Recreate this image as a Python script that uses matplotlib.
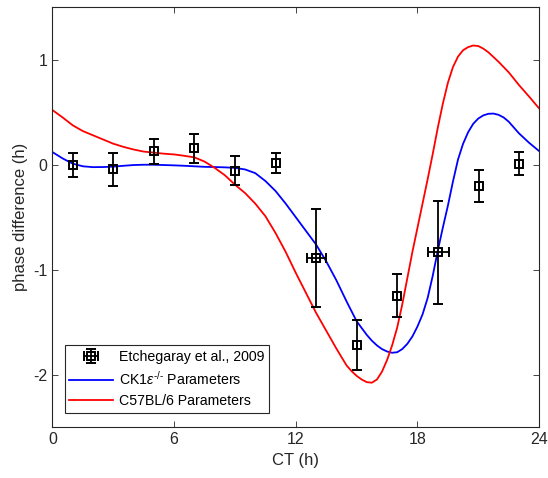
import matplotlib
matplotlib.use("Agg")
import matplotlib.pyplot as plt
import numpy as np

plt.rcParams['font.family'] = ['Liberation Sans', 'DejaVu Sans']
plt.rcParams['mathtext.fontset'] = 'custom'
plt.rcParams['mathtext.rm'] = 'Liberation Sans'
plt.rcParams['mathtext.it'] = 'Liberation Sans:italic'
plt.rcParams['axes.unicode_minus'] = False

# Experimental data (Etchegaray et al., 2009)
exp_ct = [1.0, 3.0, 5.0, 7.0, 9.0, 11.0, 13.0, 15.0, 17.0, 19.03, 21.03, 23.02]
exp_phase = [0.0, -0.045, 0.127, 0.156, -0.055, 0.013, -0.89, -1.717, -1.248, -0.835, -0.203, 0.01]
exp_yerr = [0.115, 0.16, 0.12, 0.14, 0.135, 0.095, 0.465, 0.24, 0.205, 0.49, 0.155, 0.11]
exp_xerr = [0, 0, 0, 0, 0, 0, 0.47, 0, 0, 0.52, 0, 0]

# Model curve: CK1e-/- parameters
ck1e_ct = [0, 0.5, 1, 1.5, 2, 2.5, 3, 3.5, 4, 4.5, 5, 5.5, 6, 6.5, 7, 7.5, 8, 8.5,
           9, 9.5, 10, 10.5, 11, 11.5, 12, 12.5, 13, 13.5, 14, 14.5, 15, 15.5,
           15.75, 16, 16.25, 16.5, 16.75, 17, 17.25, 17.5, 17.75, 18, 18.25,
           18.5, 18.75, 19, 19.25, 19.5, 19.75, 20, 20.25, 20.5, 20.75, 21,
           21.25, 21.5, 21.75, 22, 22.25, 22.5, 23, 23.5, 24]
ck1e_phase = [0.12, 0.06, 0.01, -0.015, -0.023, -0.022, -0.018, -0.01, -0.003, 0.0,
              0.0, -0.003, -0.006, -0.01, -0.015, -0.02, -0.022, -0.025,
              -0.03, -0.045, -0.08, -0.155, -0.25, -0.37, -0.50, -0.63, -0.76,
              -0.92, -1.10, -1.30, -1.49, -1.62,
              -1.675, -1.72, -1.755, -1.778, -1.79, -1.785, -1.755, -1.705,
              -1.635, -1.54, -1.425, -1.27, -1.06, -0.82, -0.60, -0.39, -0.16,
              0.05, 0.20, 0.31, 0.39, 0.44, 0.47, 0.485, 0.487, 0.475, 0.45,
              0.41, 0.30, 0.21, 0.13]

# Model curve: C57BL/6 parameters
c57_ct = [0, 0.5, 1, 1.5, 2, 2.5, 3, 3.5, 4, 4.5, 5, 5.5, 6, 6.5, 7, 7.5, 8, 8.5,
          9, 9.5, 10, 10.5, 11, 11.5, 12, 12.5, 13, 13.5, 14, 14.5, 14.75, 15,
          15.25, 15.5, 15.75, 16, 16.25, 16.5, 16.75, 17, 17.25, 17.5, 17.75,
          18, 18.25, 18.5, 18.75, 19, 19.25, 19.5, 19.75, 20, 20.25, 20.5,
          20.75, 21, 21.25, 21.5, 22, 22.5, 23, 23.5, 24]
c57_phase = [0.52, 0.45, 0.375, 0.32, 0.28, 0.24, 0.20, 0.17, 0.145, 0.125,
             0.115, 0.105, 0.098, 0.085, 0.07, 0.03, -0.03, -0.10,
             -0.19, -0.27, -0.37, -0.49, -0.65, -0.83, -1.03, -1.22, -1.41,
             -1.58, -1.75, -1.91, -1.965, -2.01, -2.045, -2.07, -2.075, -2.045,
             -1.97, -1.86, -1.72, -1.55, -1.33, -1.08, -0.83, -0.60, -0.37,
             -0.14, 0.10, 0.35, 0.58, 0.78, 0.93, 1.03, 1.09, 1.12, 1.135,
             1.13, 1.105, 1.07, 0.98, 0.88, 0.76, 0.65, 0.536]

legend_labels = ['Etchegaray et al., 2009',
                 'CK1$\\epsilon^{\u2010/\u2010}$ Parameters',
                 'C57BL/6 Parameters']

fig = plt.figure(figsize=(5.48, 4.78), dpi=100)
ax = fig.add_axes([0.0958, 0.106, 0.888, 0.879])

eb = ax.errorbar(exp_ct, exp_phase, yerr=exp_yerr, xerr=exp_xerr, fmt='s',
                 color='black', mfc='none', mec='black', ms=6, mew=1.4,
                 elinewidth=1.3, capsize=3.6, capthick=1.3, zorder=3)
l1, = ax.plot(ck1e_ct, ck1e_phase, color=(0, 0, 1), lw=1.3, zorder=2)
l2, = ax.plot(c57_ct, c57_phase, color=(1, 0, 0), lw=1.3, zorder=2)

ax.set_xlim(0, 24)
ax.set_ylim(-2.5, 1.5)
ax.set_xticks([0, 6, 12, 18, 24])
ax.set_yticks([-2, -1, 0, 1])
ax.tick_params(direction='in', top=True, right=True, labelsize=11.5,
               length=4, width=0.6, color='#262626', labelcolor='#262626')
for s in ax.spines.values():
    s.set_linewidth(0.8)
    s.set_color('#262626')
ax.set_xlabel('CT (h)', fontsize=12, color='#262626')
ax.set_ylabel('phase difference (h)', fontsize=12, color='#262626')

leg = ax.legend([eb, l1, l2], legend_labels,
                loc='lower left', bbox_to_anchor=(0.0257, 0.035),
                borderaxespad=0, fontsize=10.2, fancybox=False,
                framealpha=1, edgecolor='#262626', handlelength=3.1,
                borderpad=0.3, labelspacing=0.45, handletextpad=0.4)
leg.get_frame().set_linewidth(0.8)

fig.savefig('out.png', dpi=100)
